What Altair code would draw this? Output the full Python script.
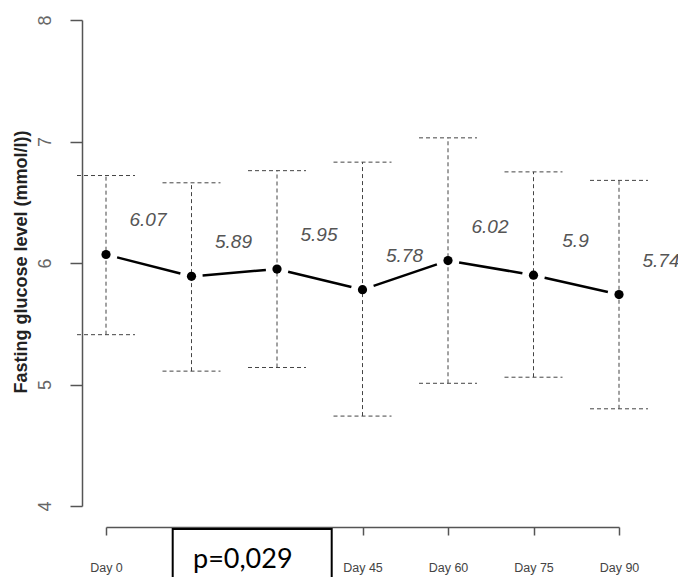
import json
import altair as alt
import pandas as pd

# ---- data ----
DAYS = ["Day 0", "Day 15", "Day 30", "Day 45", "Day 60", "Day 75", "Day 90"]
MEANS = [6.07, 5.89, 5.95, 5.78, 6.02, 5.90, 5.74]
LOWER = [5.41, 5.11, 5.14, 4.74, 5.01, 5.06, 4.80]
UPPER = [6.72, 6.66, 6.76, 6.83, 7.03, 6.75, 6.68]
MEAN_LABELS = ["6.07", "5.89", "5.95", "5.78", "6.02", "5.9", "5.74"]
Y_TICKS = [4, 5, 6, 7, 8]
Y_TITLE = "Fasting glucose level (mmol/l))"
P_TEXT = "p=0,029"

df = pd.DataFrame({
    "idx": list(range(len(DAYS))),
    "day": DAYS,
    "mean": MEANS,
    "lower": LOWER,
    "upper": UPPER,
    "label": MEAN_LABELS,
})

FONT = "Liberation Sans"
GAP = 0.13  # fraction of each segment left blank next to the points (R type="b")

x_axis = alt.Axis(
    values=list(range(len(DAYS))),
    labelExpr=json.dumps(DAYS) + "[datum.value]",
    offset=21, domainColor="#555", domainWidth=1.5,
    tickColor="#555", tickWidth=1.5, tickSize=8,
    labelFont=FONT, labelFontSize=12.5, labelColor="#444",
    labelPadding=32, labelBaseline="middle", labelAlign="center",
    labelFlush=False, labelOverlap=False, grid=False,
)
y_axis = alt.Axis(
    values=Y_TICKS, domainColor="#555", domainWidth=1.5,
    tickColor="#555", tickWidth=1.5, tickSize=12,
    labelAngle=270, labelAlign="center", labelBaseline="middle",
    labelPadding=25, labelFontSize=18, labelColor="#666", labelFont=FONT,
    labelFlush=False,
    titleFont=FONT, titleFontSize=18, titleFontWeight="bold", titleColor="#222",
    titleAngle=270, titleX=-61, titleY=241.5, titleAlign="center",
    titleBaseline="middle", grid=False,
)
x_scale = alt.Scale(domain=[0, 6], range=[24, 537])
y_scale = alt.Scale(domain=[4, 8])


def X(field="idx:Q"):
    return alt.X(field, scale=x_scale, axis=x_axis, title=None)


def Y(field):
    return alt.Y(field, scale=y_scale, axis=y_axis, title=Y_TITLE)


base = alt.Chart(df)
dash = [4, 3]

segments = base.transform_window(
    next_mean="lead(mean)", next_idx="lead(idx)"
).transform_filter(
    "datum.next_mean != null"
).transform_calculate(
    sx1=f"datum.idx + {GAP} * (datum.next_idx - datum.idx)",
    sx2=f"datum.next_idx - {GAP} * (datum.next_idx - datum.idx)",
    sy1=f"datum.mean + {GAP} * (datum.next_mean - datum.mean)",
    sy2=f"datum.next_mean - {GAP} * (datum.next_mean - datum.mean)",
).mark_rule(color="black", strokeWidth=2.5).encode(
    x=X("sx1:Q"), x2="sx2:Q", y=Y("sy1:Q"), y2="sy2:Q")

vbars = base.mark_rule(strokeDash=dash, color="#444", strokeWidth=1).encode(
    x=X(), y=Y("lower:Q"), y2="upper:Q")
cap_top = base.mark_rule(strokeDash=dash, color="#444", strokeWidth=1,
                         xOffset=-29, x2Offset=29).encode(
    x=X(), x2="idx:Q", y=Y("upper:Q"))
cap_bot = base.mark_rule(strokeDash=dash, color="#444", strokeWidth=1,
                         xOffset=-29, x2Offset=29).encode(
    x=X(), x2="idx:Q", y=Y("lower:Q"))
points = base.mark_circle(color="black", size=85, opacity=1).encode(x=X(), y=Y("mean:Q"))
labels = base.mark_text(font=FONT, fontStyle="italic", fontSize=19, color="#555",
                        dx=42, dy=-34).encode(x=X(), y=Y("mean:Q"), text="label:N")

pdata = pd.DataFrame({"p": [P_TEXT]})
box = alt.Chart(pdata).mark_rect(fill="white", stroke="black", strokeWidth=2).encode(
    x=alt.value(90.7), x2=alt.value(249.7), y=alt.value(509), y2=alt.value(580))
ptext = alt.Chart(pdata).mark_text(font="Lato", fontSize=27, align="left",
                                   baseline="middle", color="black").encode(
    x=alt.value(111), y=alt.value(540), text="p:N")

chart = alt.layer(segments, vbars, cap_top, cap_bot, points, labels, box, ptext).properties(
    width=596, height=486,
    autosize=alt.AutoSizeParams(type="none"),
    padding={"left": 74, "top": 12, "right": 0, "bottom": 71},
).configure_view(stroke=None)

chart.save("out.html", embed_options={"renderer": "svg", "actions": False})
